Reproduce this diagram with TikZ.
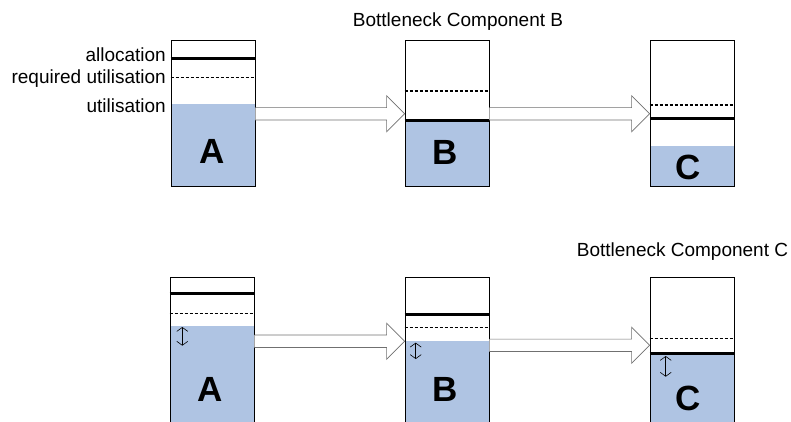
\documentclass[tikz,border=0pt]{standalone}
\usepackage{fontspec}
\setmainfont{Liberation Sans}
\usetikzlibrary{arrows.meta,calc,backgrounds}
\definecolor{used}{HTML}{AFC4E3}
\definecolor{pipe}{HTML}{707070}

\begin{document}
\begin{tikzpicture}[x=1pt,y=-1pt,
  col/.style={draw,line width=0.8pt,minimum width=84pt,minimum height=146pt,inner sep=0pt},
  lvl/.style={fill=used},
  alloc/.style={line width=3pt},
  req/.style={line width=1.4pt,dash pattern=on 3pt off 2pt},
  tag/.style={font=\fontsize{35}{40}\selectfont\bfseries,inner sep=0pt},
  lbl/.style={font=\fontsize{19}{23}\selectfont,inner sep=0pt},
  f/.style={draw=pipe,fill=white,line width=0.7pt},
  gap/.style={{Straight Barb[length=4pt,width=11pt]}-{Straight Barb[length=4pt,width=11pt]},line width=0.6pt}]

\useasboundingbox (0,0) rectangle (791,421);

% component columns: first case on top, second case below
\node[col] (a1) at (213,113.7) {};
\node[col] (b1) at (447,113.7) {};
\node[col] (c1) at (692,113.7) {};
\node[col] (a2) at (212,350.7) {};
\node[col] (b2) at (447,350.7) {};
\node[col] (c2) at (692,350.7) {};

% utilisation levels, behind the outlines
\begin{scope}[on background layer]
  \foreach \n/\u in {a1/104,b1/120.7,c1/146,a2/326,b2/341,c2/353}
    \fill[lvl] (\n.south west) rectangle (\n.east |- 0,\u);
\end{scope}

% required utilisation (dashed) and allocation (thick)
\foreach \n/\al/\rq in {a1/58/77.7,b1/120.7/91,c1/118.3/105,a2/293.3/313.7,b2/314/327.7,c2/353/338.3}{
  \draw[req] (\n.west |- 0,\rq) -- (\n.east |- 0,\rq);
  \draw[alloc] (\n.west |- 0,\al) -- (\n.east |- 0,\al);
}

\node[tag] (la1) at (212.3,151) {A};
\node[tag] (lb1) at (444.7,152) {B};
\node[tag] (lc1) at (688,167.5) {C};
\node[tag] (la2) at (210,389) {A};
\node[tag] (lb2) at (445,389) {B};
\node[tag] (lc2) at (688.5,398) {C};

% block arrows between the components
\foreach \s/\t/\m in {a1/b1/113.8,b1/c1/113.8,a2/b2/341.2,b2/c2/345.3}
  \draw[f] (\s.east |- 0,\m-6.2) -- ($(\t.west |- 0,\m-6.2)+(-18,0)$)
    -- ($(\t.west |- 0,\m-18)+(-18,0)$) -- (\t.west |- 0,\m)
    -- ($(\t.west |- 0,\m+18)+(-18,0)$) -- ($(\t.west |- 0,\m+6.2)+(-18,0)$)
    -- (\s.east |- 0,\m+6.2);

% legend for the first column
\node[lbl,anchor=base east] (allocation) at (166,61) {allocation};
\node[lbl,anchor=base east] (required) at (166,83) {required utilisation};
\node[lbl,anchor=base east] (utilisation) at (166,112) {utilisation};

\node[lbl,anchor=base] (titleB) at (458,26) {Bottleneck Component B};
\node[lbl,anchor=base] (titleC) at (682.5,256.7) {Bottleneck Component C};

% headroom markers
\draw[gap] (182.3,327) -- (182.3,345.7);
\draw[gap] (415.7,342.7) -- (415.7,359);
\draw[gap] (665.7,356) -- (665.7,376.7);
\end{tikzpicture}
\end{document}
